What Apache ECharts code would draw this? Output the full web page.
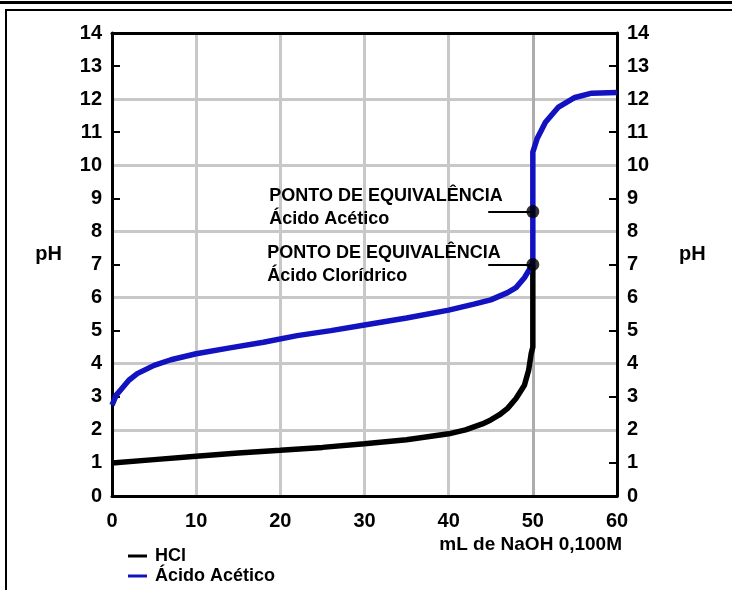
<!DOCTYPE html>
<html>
<head>
<meta charset="utf-8">
<script src="https://cdn.jsdelivr.net/npm/echarts@6/dist/echarts.min.js"></script>
<style>
  html, body { margin: 0; padding: 0; background: #fff; }
  #chart { width: 732px; height: 590px; }
</style>
</head>
<body>
<div id="chart"></div>
<script>
// titration curves
const hclVolume = [0, 5, 10, 15, 20, 25, 30, 35, 40, 42, 44, 45, 46, 47, 48, 49, 49.5, 49.8, 50, 50];
const hclPh = [1.0, 1.1, 1.2, 1.3, 1.38, 1.47, 1.58, 1.7, 1.88, 2.0, 2.18, 2.3, 2.45, 2.65, 2.95, 3.35, 3.8, 4.3, 4.5, 7.0];

const aceticVolume = [0, 0.5, 1, 2, 3, 5, 7, 10, 14, 18, 22, 26, 30, 35, 40, 43, 45, 47, 48, 49, 49.7, 50, 50, 50.5, 51.5, 53, 55, 57, 60];
const aceticPh = [2.75, 3.05, 3.2, 3.5, 3.7, 3.95, 4.12, 4.3, 4.48, 4.65, 4.85, 5.0, 5.17, 5.38, 5.62, 5.8, 5.93, 6.15, 6.3, 6.6, 6.9, 7.05, 10.4, 10.8, 11.3, 11.75, 12.05, 12.18, 12.2];

const seriesNames = ['HCl', 'Ácido Acético'];

const equivVolume = [50, 50];
const equivPh = [8.6, 7.0];
const equivLabels = ['PONTO DE EQUIVALÊNCIA\nÁcido Acético', 'PONTO DE EQUIVALÊNCIA\nÁcido Clorídrico'];
const leaderStart = 44.7;

const phTicks = [1, 3, 5, 7, 9, 11, 13];
const xAxisName = 'mL de NaOH 0,100M';

const font = 'Liberation Sans, Arial, sans-serif';

const chart = echarts.init(document.getElementById('chart'));

const zip = (xs, ys) => xs.map((x, i) => [x, ys[i]]);

const phAxis = (pos) => ({
    type: 'value',
    position: pos,
    min: 0,
    max: 14,
    interval: 1,
    name: 'pH',
    nameLocation: 'middle',
    nameRotate: 0,
    nameGap: pos === 'left' ? 50 : 62,
    nameTextStyle: { color: '#000', fontFamily: font, fontWeight: 'bold', fontSize: 20, verticalAlign: 'bottom' },
    axisLine: { show: true, onZero: false, lineStyle: { color: '#000', width: 3 } },
    axisTick: { show: true, inside: true, length: 8, customValues: phTicks, lineStyle: { color: '#000', width: 2 } },
    axisLabel: { color: '#000', fontFamily: font, fontWeight: 'bold', fontSize: 20, margin: 10 },
    splitLine: { show: false }
});

const option = {
    backgroundColor: '#fff',
    animation: false,
    title: {
        text: xAxisName,
        right: 110,
        top: 535,
        padding: 0,
        textStyle: { color: '#000', fontFamily: font, fontWeight: 'bold', fontSize: 19 }
    },
    legend: {
        orient: 'vertical',
        left: 128,
        top: 547,
        padding: 0,
        itemWidth: 19,
        itemHeight: 3,
        itemGap: 2,
        icon: 'rect',
        data: seriesNames,
        textStyle: { color: '#000', fontFamily: font, fontWeight: 'bold', fontSize: 18, lineHeight: 18, padding: [0, 0, 0, 3] }
    },
    grid: { left: 112, right: 115, top: 33, bottom: 94 },
    xAxis: [
        {
            type: 'value',
            min: 0,
            max: 60,
            interval: 10,
            axisLine: { show: true, onZero: false, lineStyle: { color: '#000', width: 3 } },
            axisTick: { show: false },
            axisLabel: { color: '#000', fontFamily: font, fontWeight: 'bold', fontSize: 20, margin: 15 },
            splitLine: {
                show: true, showMinLine: false, showMaxLine: false,
                lineStyle: { color: ['#c8c8c8', '#c8c8c8', '#c8c8c8', '#c8c8c8', '#acacac'], width: 3 }
            }
        },
        {
            type: 'value',
            position: 'top',
            min: 0,
            max: 60,
            axisLine: { show: true, onZero: false, lineStyle: { color: '#000', width: 3 } },
            axisTick: { show: false },
            axisLabel: { show: false },
            splitLine: { show: false }
        }
    ],
    yAxis: [
        phAxis('left'),
        phAxis('right'),
        {
            // gridlines at even pH
            type: 'value',
            min: 0,
            max: 14,
            interval: 2,
            axisLine: { show: false, onZero: false },
            axisTick: { show: false },
            axisLabel: { show: false },
            splitLine: { show: true, showMinLine: false, showMaxLine: false, lineStyle: { color: '#c8c8c8', width: 3 } }
        }
    ],
    series: [
        {
            name: seriesNames[0],
            type: 'line',
            data: zip(hclVolume, hclPh),
            showSymbol: false,
            color: '#000',
            lineStyle: { color: '#000', width: 5.5 }
        },
        {
            name: seriesNames[1],
            type: 'line',
            data: zip(aceticVolume, aceticPh),
            showSymbol: false,
            color: '#1212c0',
            lineStyle: { color: '#1212c0', width: 5.5 }
        },
        {
            name: 'equivalência',
            type: 'scatter',
            z: 5,
            symbol: 'circle',
            symbolSize: 13,
            itemStyle: { color: '#000' },
            data: zip(equivVolume, equivPh).map((p, i) => ({
                value: p,
                label: {
                    show: true,
                    formatter: equivLabels[i],
                    position: i === 0 ? [-257, -21] : [-259, -16],
                    align: 'left',
                    verticalAlign: 'top',
                    color: '#000',
                    opacity: 1,
                    textBorderWidth: 0,
                    fontFamily: font,
                    fontWeight: 'bold',
                    fontSize: 18,
                    lineHeight: 23
                }
            })),
            markLine: {
                silent: true,
                symbol: 'none',
                label: { show: false },
                lineStyle: { color: '#000', width: 2, type: 'solid' },
                data: equivPh.map((ph, i) => [
                    { coord: [leaderStart, ph] },
                    { coord: [equivVolume[i], ph] }
                ])
            }
        }
    ],
    graphic: [
        { type: 'rect', shape: { x: 0, y: 1, width: 732, height: 3 }, style: { fill: '#000' } },
        { type: 'rect', shape: { x: 5, y: 9, width: 727, height: 2 }, style: { fill: '#000' } },
        { type: 'rect', shape: { x: 5, y: 9, width: 2, height: 581 }, style: { fill: '#000' } }
    ]
};

chart.setOption(option);
</script>
</body>
</html>
